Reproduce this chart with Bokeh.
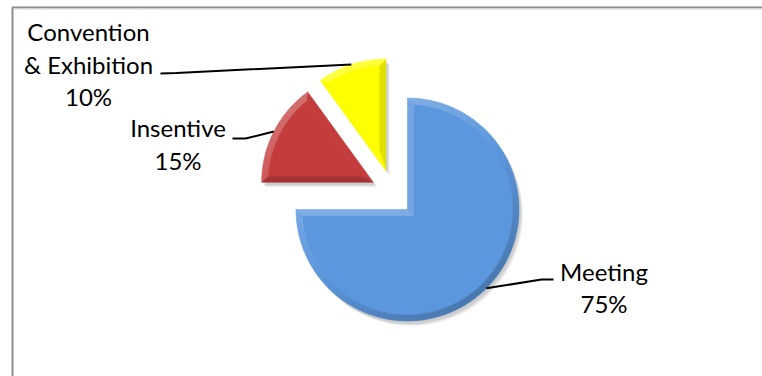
import math
from bokeh.plotting import figure
from bokeh.models import Range1d
from bokeh.embed import file_html
from bokeh.resources import INLINE
from bokeh.core.properties import value

# ---- data ----
categories = ["Meeting", "Insentive", "Convention & Exhibition"]
label_lines = [["Meeting"], ["Insentive"], ["Convention", "& Exhibition"]]
shares = [75, 15, 10]

# ---- style ----
colors = ["#5B97DD", "#C43C3C", "#FFFF00"]
W, H = 762, 376
PX0, PY0 = 0, 0
TEXT_SHIFT = 11  # renderer baseline correction (px)


def fx(x):
    return x - PX0


def fy(y):
    return H + PY0 - y


centre = (fx(407), fy(209))
R = 111.5
BEV = 6.0
explode = [(0.0, 0.0), (-34.3, 27.3), (-21.7, 39.0)]
label_anchor = [(fx(603.5), fy(281.5 - TEXT_SHIFT)), (fx(177.5), fy(138.3 - TEXT_SHIFT)), (fx(88), fy(42 - TEXT_SHIFT))]
label_elbow = [(fx(541), fy(279)), (fx(245), fy(138)), (fx(176), fy(72.5))]
label_start = [(fx(553), fy(279)), (fx(232), fy(138)), (fx(160), fy(73))]
LINE_STEP = 32.5
FONT = "Lato"
FONT_SIZE = "24px"

p = figure(width=W, height=H, x_range=Range1d(0, W), y_range=Range1d(0, H),
           output_backend="svg", toolbar_location=None, min_border=0)
p.axis.visible = False
p.grid.visible = False
p.outline_line_color = None
p.background_fill_color = "white"
p.border_fill_color = "white"

# chart-area border (top and left edges visible)
p.line(x=[fx(12), fx(12), W], y=[0, fy(7), fy(7)], line_color="#8C8C8C", line_width=2)
p.line(x=[fx(13), W], y=[fy(8.5), fy(8.5)], line_color="#DADADA", line_width=1)


def hex2rgb(h):
    h = h.lstrip("#")
    return tuple(int(h[i:i + 2], 16) for i in (0, 2, 4))


def shade(base, normal_angle):
    r, g, b = hex2rgb(base)
    s = math.cos(normal_angle - math.radians(125))
    if s > 0:
        k = 0.25 * s
        r, g, b = r + (255 - r) * k, g + (255 - g) * k, b + (255 - b) * k
    else:
        k = 0.2 * (-s)
        r, g, b = r * (1 - k), g * (1 - k), b * (1 - k)
    return "#%02x%02x%02x" % (int(r), int(g), int(b))


total = float(sum(shares))
cum = 0.0
xs, ys, fills = [], [], []
shadow_xs, shadow_ys = [], []
mids = []
for i, v in enumerate(shares):
    a1 = math.pi / 2 - 2 * math.pi * cum / total
    a0 = math.pi / 2 - 2 * math.pi * (cum + v) / total
    cum += v
    ax = centre[0] + explode[i][0]
    ay = centre[1] + explode[i][1]
    span = a1 - a0
    n = max(8, int(abs(span) / math.radians(3)))
    outer = [(ax + R * math.cos(a0 + span * k / n), ay + R * math.sin(a0 + span * k / n)) for k in range(n + 1)]
    shadow_xs.append([ax] + [q[0] for q in outer])
    shadow_ys.append([ay] + [q[1] for q in outer])
    half = span / 2
    bis = a0 + half
    d = BEV / math.sin(half)
    apx, apy = ax + d * math.cos(bis), ay + d * math.sin(bis)
    t = math.sqrt((R - BEV) ** 2 - BEV ** 2)
    dl = math.atan2(BEV, t)
    ri = math.hypot(t, BEV)
    ispan = span - 2 * dl
    inner = [(ax + ri * math.cos(a0 + dl + ispan * k / n), ay + ri * math.sin(a0 + dl + ispan * k / n)) for k in range(n + 1)]
    xs.append([apx] + [q[0] for q in inner])
    ys.append([apy] + [q[1] for q in inner])
    fills.append(colors[i])
    xs.append([ax, outer[0][0], inner[0][0], apx])
    ys.append([ay, outer[0][1], inner[0][1], apy])
    fills.append(shade(colors[i], a0 - math.pi / 2))
    xs.append([ax, outer[-1][0], inner[-1][0], apx])
    ys.append([ay, outer[-1][1], inner[-1][1], apy])
    fills.append(shade(colors[i], a1 + math.pi / 2))
    for k in range(n):
        xs.append([outer[k][0], outer[k + 1][0], inner[k + 1][0], inner[k][0]])
        ys.append([outer[k][1], outer[k + 1][1], inner[k + 1][1], inner[k][1]])
        fills.append(shade(colors[i], a0 + span * (k + 0.5) / n))
    mids.append((ax + R * math.cos(bis), ay + R * math.sin(bis)))

for off, al in [(4, 0.05), (3, 0.07), (2, 0.08)]:
    p.patches(xs=[[x + off for x in s] for s in shadow_xs],
              ys=[[y - off - 1 for y in s] for s in shadow_ys],
              fill_color="black", fill_alpha=al, line_color=None)

p.patches(xs=xs, ys=ys, fill_color=fills, line_color=fills, line_width=0.6)

for i in range(len(shares)):
    p.line(x=[label_start[i][0], label_elbow[i][0], mids[i][0]],
           y=[label_start[i][1], label_elbow[i][1], mids[i][1]],
           line_color="black", line_width=2)

tx, ty, tt = [], [], []
for i, v in enumerate(shares):
    lines = label_lines[i] + ["%d%%" % v]
    for j, s in enumerate(lines):
        tx.append(label_anchor[i][0])
        ty.append(label_anchor[i][1] - j * LINE_STEP)
        tt.append(s)
p.text(x=tx, y=ty, text=tt, text_font=value(FONT), text_font_size=FONT_SIZE,
       text_align="center", text_baseline="alphabetic", text_color="black")

open("out.html", "w").write(file_html(p, INLINE))
